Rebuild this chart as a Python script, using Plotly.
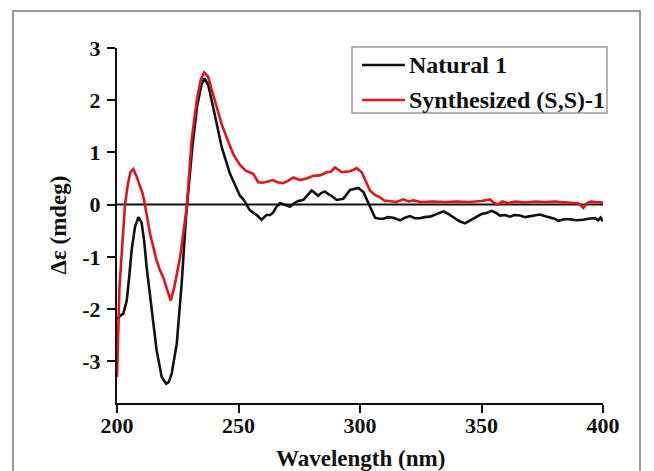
import plotly.graph_objects as go

# Natural 1 (black)
nat_x = [200, 201.5, 202.6, 204, 205, 206, 207.4, 208.8, 210.1, 211.2, 212.2, 214.3, 216.3, 218.4,
         220.2, 221.3, 222.5, 224.6, 226.6, 228.4, 229.5, 231, 233, 234.8, 236, 237.5, 239.6, 241.5,
         243.1, 246.5, 249, 250.6, 252, 254.7, 257.5, 259.5, 261.5, 263, 264.3, 265.5, 267.1, 269,
         271.2, 273, 274.6, 276.7, 278, 280.1, 281.5, 282.8, 284, 285.6, 287, 288.3, 290.4, 293.1,
         295.9, 297.5, 299.3, 301.4, 302.8, 304.1, 306.2, 308, 309.6, 311.5, 313.7, 316.5, 318.5,
         320.6, 322.5, 324.7, 326.5, 328.8, 331, 334.3, 336, 338.4, 341, 343.2, 345, 346.6, 348.5,
         350, 352, 354.2, 356, 357.6, 359.5, 361.7, 363.5, 365.8, 368, 369.9, 372, 374, 376, 378.2,
         380, 381.6, 384, 386.4, 389, 391.9, 394, 396.7, 398, 399, 400]
nat_y = [-2.2, -2.12, -2.09, -1.84, -1.4, -0.88, -0.43, -0.24, -0.34, -0.7, -1.2, -2.03, -2.79, -3.3,
         -3.43, -3.4, -3.24, -2.66, -1.52, -0.24, 0.4, 1.1, 1.9, 2.3, 2.42, 2.3, 1.86, 1.45,
         1.1, 0.59, 0.33, 0.17, 0.1, -0.11, -0.2, -0.29, -0.2, -0.2, -0.15, -0.05, 0.03, 0.0,
         -0.04, 0.03, 0.07, 0.09, 0.16, 0.27, 0.22, 0.17, 0.22, 0.25, 0.2, 0.17, 0.09, 0.11,
         0.28, 0.3, 0.32, 0.24, 0.1, -0.05, -0.25, -0.27, -0.27, -0.24, -0.25, -0.3, -0.25,
         -0.22, -0.26, -0.26, -0.24, -0.23, -0.19, -0.13, -0.17, -0.24, -0.32, -0.36, -0.31, -0.27, -0.21,
         -0.18, -0.16, -0.12, -0.16, -0.21, -0.2, -0.23, -0.2, -0.21, -0.24, -0.22, -0.2, -0.19, -0.22, -0.24,
         -0.27, -0.31, -0.28, -0.28, -0.3, -0.29, -0.27, -0.26, -0.3, -0.25, -0.32]

# Synthesized (S,S)-1 (red)
syn_x = [200, 201, 202, 203.3, 204.5, 205.5, 206.7, 208, 209.5, 210.5, 211.5, 213.6, 216.3, 217.7,
         219, 220.5, 222.1, 223.5, 226, 228.7, 230.7, 232.8, 234.5, 235.9, 237.5, 239, 241, 243,
         245.1, 248, 250.6, 253, 256.1, 258.1, 260, 262, 264.3, 266, 268.4, 270.5, 272.6, 275.3,
         278, 280.8, 283.5, 286.3, 288, 289.7, 291, 292.5, 294, 295.9, 297.5, 298.6, 300.7, 302,
         304.1, 306, 308.2, 310, 312.3, 315, 317.8, 320, 322, 325, 330, 335, 340, 345, 350, 353.5,
         355, 356.9, 358.5, 361, 364, 368, 372, 376, 380, 384, 388, 390, 391.9, 393.5, 395, 397, 400]
syn_y = [-3.3, -1.6, -0.9, 0.0, 0.4, 0.62, 0.68, 0.55, 0.35, 0.22, 0.0, -0.56, -1.07, -1.26,
         -1.39, -1.6, -1.84, -1.6, -1.0, -0.05, 1.22, 1.99, 2.4, 2.53, 2.45, 2.2, 1.86, 1.55,
         1.29, 0.95, 0.76, 0.65, 0.59, 0.43, 0.42, 0.45, 0.47, 0.43, 0.41, 0.46, 0.52, 0.47,
         0.5, 0.55, 0.56, 0.62, 0.63, 0.71, 0.66, 0.62, 0.63, 0.64, 0.67, 0.70, 0.62, 0.48,
         0.27, 0.19, 0.14, 0.08, 0.06, 0.05, 0.10, 0.06, 0.08, 0.05, 0.06, 0.05, 0.06, 0.05, 0.07, 0.1,
         0.04, 0.0, 0.06, 0.03, 0.06, 0.04, 0.06, 0.05, 0.06, 0.05, 0.03, 0.02, -0.06, 0.03, 0.06, 0.05, 0.04]

x_ticks = [200, 250, 300, 350, 400]
y_ticks = [-3, -2, -1, 0, 1, 2, 3]
series_names = ["Natural 1", "Synthesized (S,S)-1"]
series_colors = ["#111111", "#e3121b"]

FONT = "Liberation Serif"

# figure geometry (page body has an 8px margin)
W, H = 646, 463
L, R, T, B = 109, 51, 40, 68
PW, PH = W - L - R, H - T - B


def px(xp):
    return (xp - L) / PW


def py(yp):
    return (H - B - yp) / PH


fig = go.Figure()
for xs, ys, nm, col in [(nat_x, nat_y, series_names[0], series_colors[0]),
                        (syn_x, syn_y, series_names[1], series_colors[1])]:
    fig.add_trace(go.Scatter(x=xs, y=ys, mode="lines", name=nm, showlegend=False,
                             line=dict(color=col, width=2.6)))

# zero line
fig.add_shape(type="line", xref="x", yref="y", x0=200, x1=400, y0=0, y1=0,
              line=dict(color="#111111", width=2), layer="below")
# outer frame
fig.add_shape(type="rect", xref="paper", yref="paper",
              x0=px(5), x1=px(632), y0=py(480), y1=py(3),
              line=dict(color="#777777", width=1.5))

# legend box
fig.add_shape(type="rect", xref="paper", yref="paper",
              x0=px(344), x1=px(599), y0=py(105), y1=py(39),
              line=dict(color="#9a9a9a", width=1.5), fillcolor="white")
annotations = []
for i, (nm, col) in enumerate(zip(series_names, series_colors)):
    yy = 57 + 35 * i
    fig.add_shape(type="line", xref="paper", yref="paper",
                  x0=px(354), x1=px(397), y0=py(yy), y1=py(yy),
                  line=dict(color=col, width=2.6))
    annotations.append(dict(text=nm, xref="paper", yref="paper", x=px(399), y=py(yy),
                            xanchor="left", yanchor="middle", showarrow=False,
                            font=dict(family=FONT, size=24, color="#111111", weight="bold")))

# axis titles
annotations.append(dict(text="Wavelength (nm)", xref="paper", yref="paper", x=0.5, y=py(450),
                        xanchor="center", yanchor="middle", showarrow=False,
                        font=dict(family=FONT, size=23, color="#111111", weight="bold")))
annotations.append(dict(text="Δε (mdeg)", xref="paper", yref="paper", x=px(50), y=0.5,
                        xanchor="center", yanchor="middle", showarrow=False, textangle=-90,
                        font=dict(family=FONT, size=23, color="#111111", weight="bold")))

fig.update_layout(
    width=W, height=H,
    margin=dict(l=L, r=R, t=T, b=B, autoexpand=False),
    paper_bgcolor="white", plot_bgcolor="white",
    font=dict(family=FONT, size=22, color="#111111", weight="bold"),
    showlegend=False,
    annotations=annotations,
    xaxis=dict(range=[200, 400], tickvals=x_ticks, ticktext=[str(v) for v in x_ticks],
               showgrid=False, zeroline=False, showline=True, linecolor="#111111", linewidth=2,
               ticks="outside", ticklen=8, tickwidth=2, tickcolor="#111111", automargin=False,
               ticklabelstandoff=-6,
               tickfont=dict(family=FONT, size=22, weight="bold")),
    yaxis=dict(range=[-3.8, 3.0], tickvals=y_ticks, ticktext=[str(v) for v in y_ticks],
               showgrid=False, zeroline=False, showline=True, linecolor="#111111", linewidth=2,
               ticks="outside", ticklen=8, tickwidth=2, tickcolor="#111111", automargin=False,
               ticklabelstandoff=2,
               tickfont=dict(family=FONT, size=22, weight="bold")),
)

fig.write_html("out.html")
